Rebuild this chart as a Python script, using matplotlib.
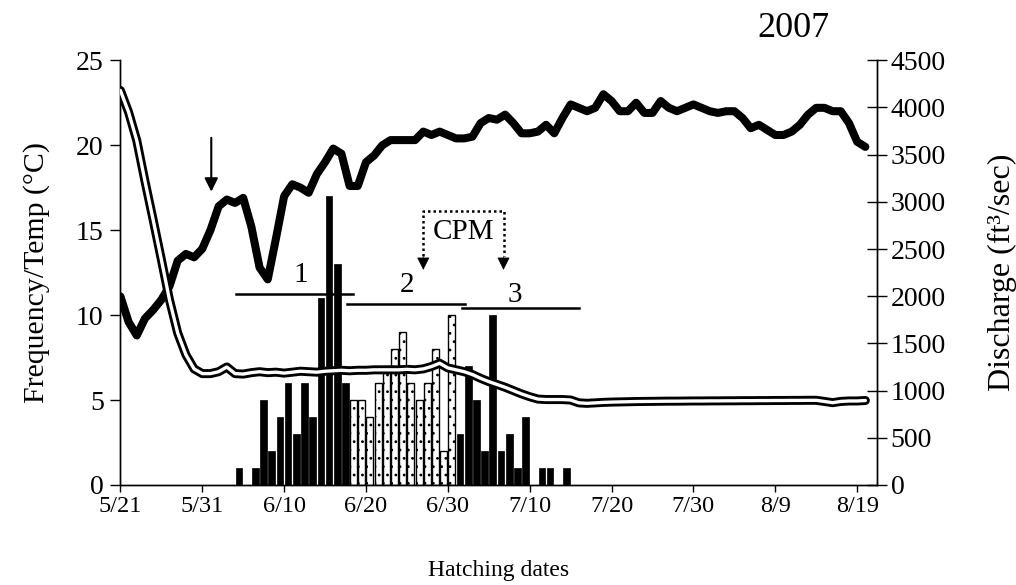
import numpy as np
import matplotlib
matplotlib.use("Agg")
from matplotlib import pyplot as plt

plt.rcParams['font.family'] = ['Liberation Serif', 'DejaVu Serif']
plt.rcParams['hatch.linewidth'] = 0.8

# day index from 5/21
tick_pos = [0, 10, 20, 30, 40, 50, 60, 70, 80, 90]
tick_lab = ['5/21', '5/31', '6/10', '6/20', '6/30', '7/10', '7/20', '7/30', '8/9', '8/19']

# hatching frequency (black = cohorts 1 and 3, dotted = cohort 2)
black_day = [14, 16, 17, 18, 19, 20, 21, 22, 23, 24, 25, 26, 27,
             41, 42, 43, 44, 45, 46, 47, 48, 49, 51, 52, 54]
black_freq = [1, 1, 5, 2, 4, 6, 3, 6, 4, 11, 17, 13, 6,
              3, 7, 5, 2, 10, 2, 3, 1, 4, 1, 1, 1]
dot_day = [28, 29, 30, 31, 32, 33, 34, 35, 36, 37, 38, 39, 40]
dot_freq = [5, 5, 4, 6, 7, 8, 9, 6, 5, 6, 8, 2, 10]

# water temperature (°C)
temp = [11.1, 9.6, 8.8, 9.8, 10.3, 10.9, 11.7, 13.2, 13.6, 13.4,
        13.9, 15.0, 16.4, 16.8, 16.6, 16.9, 15.2, 12.8, 12.1, 14.5,
        17.0, 17.7, 17.5, 17.2, 18.3, 19.0, 19.8, 19.5, 17.6, 17.6,
        19.0, 19.4, 20.0, 20.3, 20.3, 20.3, 20.3, 20.8, 20.6, 20.8,
        20.6, 20.4, 20.4, 20.5, 21.3, 21.6, 21.5, 21.8, 21.3, 20.7,
        20.7, 20.8, 21.2, 20.7, 21.6, 22.4, 22.2, 22.0, 22.2, 23.0,
        22.6, 22.0, 22.0, 22.5, 21.9, 21.9, 22.6, 22.2, 22.0, 22.2,
        22.4, 22.2, 22.0, 21.9, 22.0, 22.0, 21.6, 21.0, 21.2, 20.9,
        20.6, 20.6, 20.8, 21.2, 21.8, 22.2, 22.2, 22.0, 22.0, 21.3,
        20.2, 19.9]

# discharge (ft3/sec)
flow = [4180, 3950, 3650, 3220, 2810, 2390, 1960, 1610, 1380, 1230,
        1180, 1180, 1200, 1250, 1180, 1175, 1190, 1200, 1190, 1195,
        1185, 1195, 1205, 1200, 1195, 1205, 1210, 1215, 1210, 1215,
        1215, 1220, 1220, 1220, 1220, 1225, 1220, 1230, 1255, 1290,
        1240, 1220, 1200, 1170, 1130, 1095, 1065, 1035, 1000, 965,
        935, 910, 905, 905, 905, 900, 870, 865, 870, 875,
        878, 880, 882, 884, 885, 886, 887, 888, 888, 889,
        890, 890, 891, 891, 892, 892, 893, 893, 894, 894,
        895, 895, 896, 896, 897, 897, 885, 872, 885, 890,
        890, 895]

# cohort bars: (start, end, level, label, label_x, label_y)
cohorts = [(14.1, 28.4, 11.25, '1', 22.0, 12.35),
           (27.7, 42.1, 10.65, '2', 35.0, 11.8),
           (41.7, 56.0, 10.4, '3', 48.2, 11.2)]

days = np.arange(len(temp))

fig = plt.figure(figsize=(10.16, 5.85), dpi=100)
ax = fig.add_axes([0.1185, 0.171, 0.7445, 0.726])
ax2 = ax.twinx()

ax.bar(np.array(black_day) + 0.08, black_freq, width=0.82, align='edge',
       color='black', edgecolor='black', linewidth=0.5, zorder=2)
ax.bar(np.array(dot_day) + 0.05, dot_freq, width=0.86, align='edge',
       color='white', edgecolor='black', linewidth=1.0, hatch='..', zorder=2)

ax.plot(days, temp, color='black', lw=5.8, solid_joinstyle='round',
        solid_capstyle='round', zorder=4)

for x0, x1, lev, lab, lx, ly in cohorts:
    ax.plot([x0, x1], [lev, lev], color='black', lw=1.8, zorder=5)
    ax.text(lx, ly, lab, fontsize=21, ha='center', va='center', zorder=5)

# arrow at 5/31
ax.annotate('', xy=(11.1, 17.1), xytext=(11.1, 20.6),
            arrowprops=dict(arrowstyle='-|>', color='black', lw=1.5,
                            mutation_scale=20), zorder=6)

# CPM dotted bracket
ax.plot([37.0, 37.0, 46.8, 46.8], [13.5, 16.1, 16.1, 13.5], color='black',
        lw=1.8, ls=(0, (1, 1.2)), zorder=6)
for xx in (37.0, 46.8):
    ax.annotate('', xy=(xx, 12.5), xytext=(xx, 13.6),
                arrowprops=dict(arrowstyle='-|>', color='black', lw=0.5,
                                mutation_scale=20), zorder=6)
ax.text(41.9, 14.9, 'CPM', fontsize=21, ha='center', va='center', zorder=6)

ax2.plot(days, flow, color='black', lw=6.5, solid_joinstyle='round',
         solid_capstyle='round', zorder=3)
ax2.plot(days, flow, color='white', lw=2.4, solid_joinstyle='round',
         solid_capstyle='round', zorder=4)

ax.set_xlim(0, 92.4)
ax.set_ylim(0, 25)
ax2.set_ylim(0, 4500)
ax.set_yticks(np.arange(0, 26, 5))
ax2.set_yticks(np.arange(0, 4501, 500))
ax.set_xticks(tick_pos)
ax.set_xticklabels(tick_lab)

for a in (ax, ax2):
    a.spines['top'].set_visible(False)
    for s in a.spines.values():
        s.set_linewidth(1.0)
ax.tick_params(axis='x', direction='out', length=5, width=1,
               labelsize=17.5, pad=3)
ax.tick_params(axis='y', direction='out', length=7, width=1,
               labelsize=20, pad=5)
ax2.tick_params(axis='y', direction='inout', length=14, width=1,
                labelsize=20, pad=3)

ax.set_ylabel('Frequency/Temp (°C)', fontsize=21.5, labelpad=19)
ax2.set_ylabel('Discharge (ft³/sec)', fontsize=23, labelpad=30)
ax.set_xlabel('Hatching dates', fontsize=17, labelpad=31)
fig.text(0.781, 0.952, '2007', fontsize=26, ha='center', va='center')

fig.savefig('out.png', dpi=100)
